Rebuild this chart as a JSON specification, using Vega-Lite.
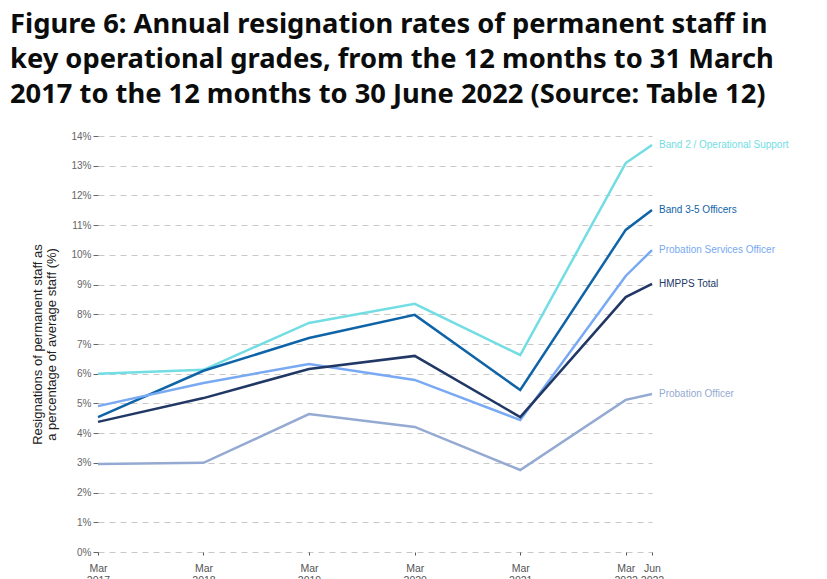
{
  "$schema": "https://vega.github.io/schema/vega-lite/v6.json",
  "width": 554,
  "height": 416,
  "autosize": {"type": "none"},
  "padding": {"left": 98, "top": 136, "right": 175, "bottom": 27},
  "background": "white",
  "config": {"view": {"stroke": null}},
  "title": {
    "text": ["Figure 6: Annual resignation rates of permanent staff in", "key operational grades, from the 12 months to 31 March", "2017 to the 12 months to 30 June 2022 (Source: Table 12)"],
    "anchor": "start",
    "frame": "group",
    "dx": -88,
    "fontSize": 27.3,
    "font": "Noto Sans",
    "fontWeight": "bold",
    "color": "#0b0c0c",
    "lineHeight": 35,
    "offset": 23
  },
  "data": {
    "values": [
      {"date": "2017-03-31", "series": "Band 2 / Operational Support", "rate": 6.0},
      {"date": "2018-03-31", "series": "Band 2 / Operational Support", "rate": 6.13},
      {"date": "2019-03-31", "series": "Band 2 / Operational Support", "rate": 7.71},
      {"date": "2020-03-31", "series": "Band 2 / Operational Support", "rate": 8.35},
      {"date": "2021-03-31", "series": "Band 2 / Operational Support", "rate": 6.63},
      {"date": "2022-03-31", "series": "Band 2 / Operational Support", "rate": 13.09},
      {"date": "2022-06-30", "series": "Band 2 / Operational Support", "rate": 13.7},
      {"date": "2017-03-31", "series": "Band 3-5 Officers", "rate": 4.54},
      {"date": "2018-03-31", "series": "Band 3-5 Officers", "rate": 6.1},
      {"date": "2019-03-31", "series": "Band 3-5 Officers", "rate": 7.2},
      {"date": "2020-03-31", "series": "Band 3-5 Officers", "rate": 7.98},
      {"date": "2021-03-31", "series": "Band 3-5 Officers", "rate": 5.45},
      {"date": "2022-03-31", "series": "Band 3-5 Officers", "rate": 10.84},
      {"date": "2022-06-30", "series": "Band 3-5 Officers", "rate": 11.51},
      {"date": "2017-03-31", "series": "Probation Services Officer", "rate": 4.91},
      {"date": "2018-03-31", "series": "Probation Services Officer", "rate": 5.69},
      {"date": "2019-03-31", "series": "Probation Services Officer", "rate": 6.33},
      {"date": "2020-03-31", "series": "Probation Services Officer", "rate": 5.79},
      {"date": "2021-03-31", "series": "Probation Services Officer", "rate": 4.44},
      {"date": "2022-03-31", "series": "Probation Services Officer", "rate": 9.29},
      {"date": "2022-06-30", "series": "Probation Services Officer", "rate": 10.16},
      {"date": "2017-03-31", "series": "HMPPS Total", "rate": 4.38},
      {"date": "2018-03-31", "series": "HMPPS Total", "rate": 5.18},
      {"date": "2019-03-31", "series": "HMPPS Total", "rate": 6.16},
      {"date": "2020-03-31", "series": "HMPPS Total", "rate": 6.6},
      {"date": "2021-03-31", "series": "HMPPS Total", "rate": 4.54},
      {"date": "2022-03-31", "series": "HMPPS Total", "rate": 8.58},
      {"date": "2022-06-30", "series": "HMPPS Total", "rate": 9.02},
      {"date": "2017-03-31", "series": "Probation Officer", "rate": 2.96},
      {"date": "2018-03-31", "series": "Probation Officer", "rate": 3.0},
      {"date": "2019-03-31", "series": "Probation Officer", "rate": 4.64},
      {"date": "2020-03-31", "series": "Probation Officer", "rate": 4.21},
      {"date": "2021-03-31", "series": "Probation Officer", "rate": 2.76},
      {"date": "2022-03-31", "series": "Probation Officer", "rate": 5.12},
      {"date": "2022-06-30", "series": "Probation Officer", "rate": 5.32}
    ]
  },
  "encoding": {
    "x": {
      "field": "date",
      "type": "temporal",
      "scale": {"domain": ["2017-03-31", "2022-06-30"], "nice": false},
      "axis": {
        "title": null,
        "values": ["2017-03-31", "2018-03-31", "2019-03-31", "2020-03-31", "2021-03-31", "2022-03-31", "2022-06-30"],
        "labelExpr": "[timeFormat(datum.value, '%b'), timeFormat(datum.value, '%Y')]",
        "labelOverlap": false,
        "labelBound": false,
        "labelFlush": false,
        "grid": false,
        "domain": false,
        "ticks": true,
        "tickSize": 3,
        "tickColor": "#555555",
        "labelColor": "#555555",
        "labelFont": "Liberation Sans",
        "labelFontSize": 10.5,
        "labelPadding": 8,
        "labelLineHeight": 12
      }
    },
    "y": {
      "field": "rate",
      "type": "quantitative",
      "scale": {"domain": [0, 14], "nice": false},
      "axis": {
        "title": ["Resignations of permanent staff as", "a percentage of average staff (%)"],
        "titleFont": "Liberation Sans",
        "titleFontSize": 13,
        "titleFontWeight": "normal",
        "titleColor": "#222222",
        "titlePadding": 12,
        "titleLineHeight": 14,
        "values": [0, 1, 2, 3, 4, 5, 6, 7, 8, 9, 10, 11, 12, 13, 14],
        "labelExpr": "datum.value + '%'",
        "labelColor": "#666666",
        "labelFont": "Liberation Sans",
        "labelFontSize": 10,
        "labelPadding": 2,
        "domain": false,
        "ticks": true,
        "tickSize": 5,
        "tickColor": "#666666",
        "grid": true,
        "gridColor": "#c8c8c8",
        "gridDash": [6, 5],
        "gridWidth": 1
      }
    },
    "color": {
      "field": "series",
      "type": "nominal",
      "legend": null,
      "scale": {
        "domain": ["Band 2 / Operational Support", "Band 3-5 Officers", "Probation Services Officer", "HMPPS Total", "Probation Officer"],
        "range": ["#72dde3", "#0f64a8", "#78a9f2", "#213764", "#94aad2"]
      }
    }
  },
  "layer": [
    {
      "mark": {"type": "line", "strokeWidth": 2.5}
    },
    {
      "transform": [{"filter": "year(datum.date) == 2022 && month(datum.date) == 5"}],
      "mark": {"type": "text", "align": "left", "baseline": "middle", "dx": 7, "font": "Liberation Sans", "fontSize": 10},
      "encoding": {"text": {"field": "series"}}
    }
  ]
}
